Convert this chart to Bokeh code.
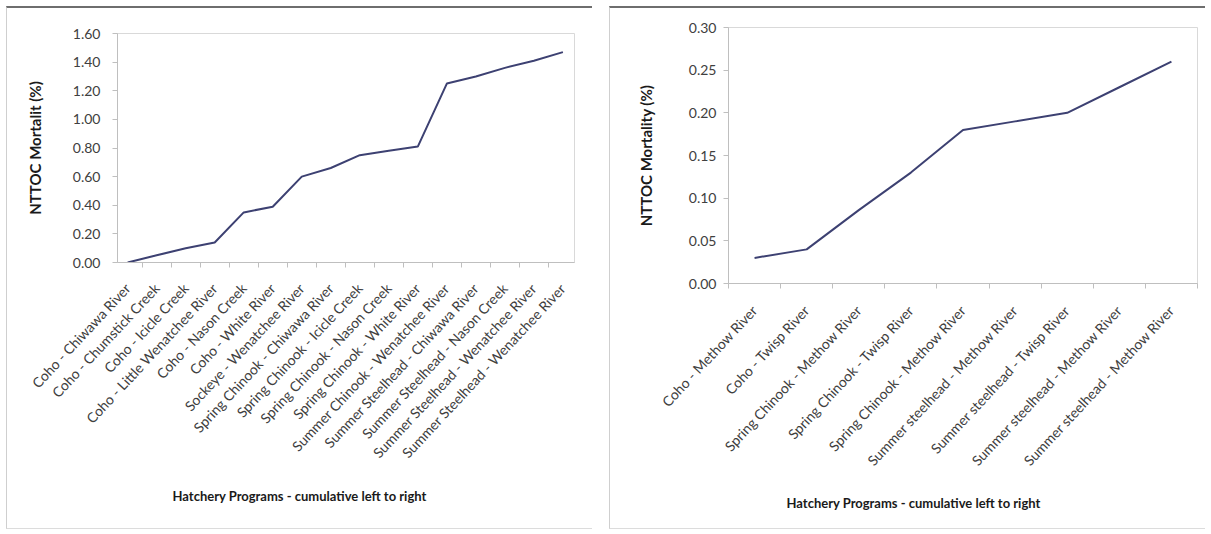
import math
from bokeh.plotting import figure
from bokeh.layouts import row
from bokeh.models import FixedTicker, NumeralTickFormatter, Range1d, ColumnDataSource, Title
from bokeh.embed import file_html
from bokeh.resources import INLINE

# ---- Data: Wenatchee basin programs (left chart) ----
wen_programs = [
    "Coho - Chiwawa River",
    "Coho - Chumstick Creek",
    "Coho - Icicle Creek",
    "Coho - Little Wenatchee River",
    "Coho - Nason Creek",
    "Coho - White River",
    "Sockeye - Wenatchee River",
    "Spring Chinook - Chiwawa River",
    "Spring Chinook - Icicle Creek",
    "Spring Chinook - Nason Creek",
    "Spring Chinook - White River",
    "Summer Chinook - Wenatchee River",
    "Summer Steelhead - Chiwawa River",
    "Summer Steelhead - Nason Creek",
    "Summer Steelhead - Wenatchee River",
    "Summer Steelhead - Wenatchee River",
]
wen_mortality = [0.00, 0.05, 0.10, 0.14, 0.35, 0.39, 0.60, 0.66,
                 0.75, 0.78, 0.81, 1.25, 1.30, 1.36, 1.41, 1.47]
wen_yticks = [0.0, 0.2, 0.4, 0.6, 0.8, 1.0, 1.2, 1.4, 1.6]

# ---- Data: Methow basin programs (right chart) ----
met_programs = [
    "Coho - Methow River",
    "Coho - Twisp River",
    "Spring Chinook - Methow River",
    "Spring Chinook - Twisp River",
    "Spring Chinook - Methow River",
    "Summer steelhead - Methow River",
    "Summer steelhead - Twisp River",
    "Summer steelhead - Methow River",
    "Summer steelhead - Methow River",
]
met_mortality = [0.03, 0.04, 0.086, 0.13, 0.18, 0.19, 0.20, 0.23, 0.26]
met_yticks = [0.00, 0.05, 0.10, 0.15, 0.20, 0.25, 0.30]

x_title = "Hatchery Programs - cumulative left to right"
wen_ytitle = "NTTOC Mortalit (%)"
met_ytitle = "NTTOC Mortality (%)"

FONT = "Lato"
LINE_COLOR = "#3d4172"
AXIS_COLOR = "#bfbfbf"
LABEL_COLOR = "#404040"


def make_chart(programs, values, yticks, ymax, ytitle, width,
               mbl, mbr, mbt, mbb, x_start, x_end,
               y_std, ylab_std, xlab_std, xtitle_offset, xtitle_std):
    n = len(programs)
    xs = list(range(n))
    src = ColumnDataSource(dict(x=xs, y=values))
    p = figure(width=width, height=523, output_backend="svg",
               toolbar_location=None, frame_align=False,
               x_range=Range1d(x_start, x_end), y_range=Range1d(0, ymax),
               min_border_left=mbl, min_border_right=mbr,
               min_border_top=mbt, min_border_bottom=mbb)
    p.line("x", "y", source=src, line_color=LINE_COLOR, line_width=2)

    p.xgrid.visible = False
    p.ygrid.visible = False
    p.outline_line_color = "#d9d9d9"
    p.background_fill_color = "white"
    p.border_fill_color = "white"

    # y axis
    ya = p.yaxis[0]
    ya.ticker = FixedTicker(ticks=yticks)
    ya.formatter = NumeralTickFormatter(format="0.00")
    ya.axis_line_color = AXIS_COLOR
    ya.major_tick_line_color = AXIS_COLOR
    ya.major_tick_out = 5
    ya.major_tick_in = 0
    ya.minor_tick_line_color = None
    ya.major_label_standoff = y_std
    ya.major_label_text_font = FONT
    ya.major_label_text_font_size = "14px"
    ya.major_label_text_color = LABEL_COLOR
    ya.axis_label = ytitle
    ya.axis_label_standoff = ylab_std
    ya.axis_label_text_font = FONT
    ya.axis_label_text_font_style = "bold"
    ya.axis_label_text_font_size = "15px"
    ya.axis_label_text_color = "#1a1a1a"

    # x axis
    xa = p.xaxis[0]
    xa.ticker = FixedTicker(ticks=xs, minor_ticks=[i - 0.5 for i in range(n + 1)])
    xa.major_label_overrides = {i: name for i, name in enumerate(programs)}
    xa.major_label_orientation = math.radians(47)
    xa.axis_line_color = AXIS_COLOR
    xa.major_tick_line_color = None
    xa.minor_tick_line_color = AXIS_COLOR
    xa.minor_tick_out = 5
    xa.minor_tick_in = 0
    xa.major_label_standoff = xlab_std
    xa.major_label_text_font = FONT
    xa.major_label_text_font_size = "14px"
    xa.major_label_text_color = LABEL_COLOR

    # x-axis title, positioned like the original (centred on the panel)
    t = Title(text=x_title, align="left", offset=xtitle_offset, standoff=xtitle_std,
              text_font=FONT, text_font_style="bold", text_font_size="13px",
              text_color="#1a1a1a")
    p.add_layout(t, "below")

    p.styles = {
        "border-top": "2px solid #6e6e6e",
        "border-left": "1px solid #cfcfcf",
        "border-bottom": "1px solid #dcdcdc",
    }
    return p


left = make_chart(wen_programs, wen_mortality, wen_yticks, 1.6, wen_ytitle,
                  width=586, mbl=110, mbr=19, mbt=25, mbb=269,
                  x_start=-0.35, x_end=15.4,
                  y_std=12, ylab_std=26, xlab_std=17,
                  xtitle_offset=55, xtitle_std=33)
right = make_chart(met_programs, met_mortality, met_yticks, 0.30, met_ytitle,
                   width=596, mbl=118, mbr=9, mbt=19, mbb=248,
                   x_start=-0.5, x_end=8.5,
                   y_std=7, ylab_std=31, xlab_std=18,
                   xtitle_offset=58, xtitle_std=30)

layout = row(left, right, spacing=17, styles={"margin-left": "6px", "margin-top": "6px"})

open("out.html", "w").write(file_html(layout, INLINE))
